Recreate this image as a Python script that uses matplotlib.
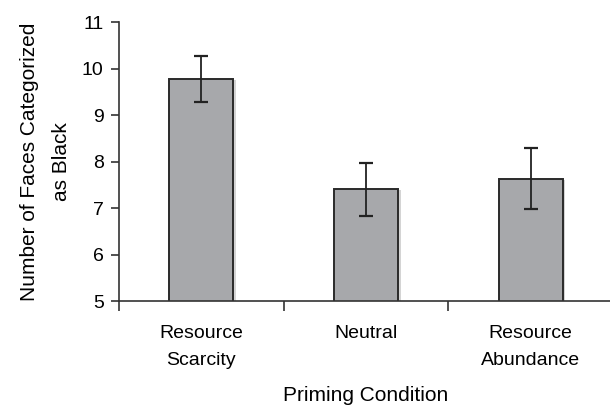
import numpy as np
import matplotlib.pyplot as plt
from matplotlib import font_manager

# Data
conditions = ['Resource\nScarcity', 'Neutral', 'Resource\nAbundance']
means = [9.77, 7.40, 7.63]
errors = [0.49, 0.56, 0.66]
y_ticks = [5, 6, 7, 8, 9, 10, 11]

names = {f.name for f in font_manager.fontManager.ttflist}
fam = 'Liberation Sans Narrow' if 'Liberation Sans Narrow' in names else 'Liberation Sans'
plt.rcParams['font.family'] = [fam, 'DejaVu Sans']

fig = plt.figure(figsize=(6.10, 4.08), dpi=100)
ax = fig.add_axes([0.195, 0.262, 0.81, 0.684])

x = np.arange(len(conditions))
# soft shadow behind bars
ax.bar(x + 0.015, np.array(means) - 0.02, width=0.39, color='#d4d4d4', edgecolor='none', zorder=1)
ax.bar(x, means, width=0.39, color='#a7a8ab', edgecolor='#2a2a2a', linewidth=1.4, zorder=2)
ax.errorbar(x, means, yerr=errors, fmt='none', ecolor='#222222', elinewidth=1.3,
            capsize=5, capthick=1.6, zorder=3)

ax.set_ylim(5, 11)
ax.set_xlim(-0.5, 2.5)
ax.set_yticks(y_ticks)
ax.set_yticklabels([str(t) for t in y_ticks], fontsize=14)

ax.set_xticks(x)
ax.set_xticklabels(conditions, fontsize=14, linespacing=1.78)
ax.tick_params(axis='x', length=0, pad=17)
ax.set_xticks([-0.5, 0.5, 1.5, 2.5], minor=True)
ax.tick_params(axis='x', which='minor', length=7, width=1.2, color='#333333', direction='out')
ax.tick_params(axis='y', length=6, width=1.2, color='#333333', direction='out', pad=5)

for s in ['top', 'right']:
    ax.spines[s].set_visible(False)
for s in ['left', 'bottom']:
    ax.spines[s].set_color('#333333')
    ax.spines[s].set_linewidth(1.2)

ax.set_xlabel('Priming Condition', fontsize=15, labelpad=12)
ax.set_ylabel('Number of Faces Categorized\nas Black', fontsize=15, labelpad=8, linespacing=1.85)

fig.savefig('out.png', dpi=100)
